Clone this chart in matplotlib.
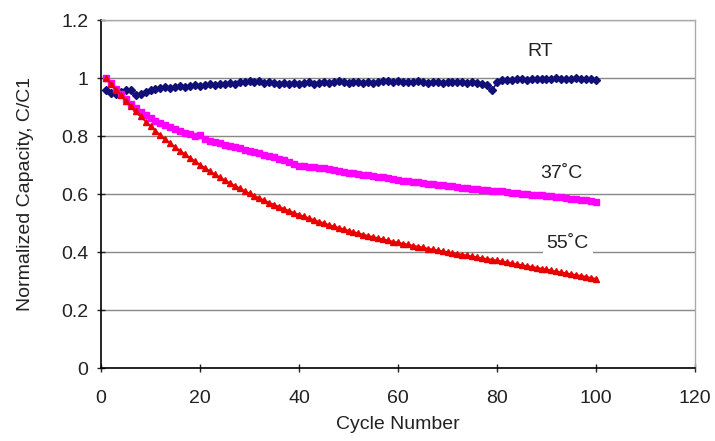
import numpy as np
import matplotlib
matplotlib.use('Agg')
import matplotlib.pyplot as plt

plt.rcParams['font.family'] = ['Liberation Sans', 'DejaVu Sans']

cycles = list(range(1, 101))

cap_rt = [0.958, 0.950, 0.946, 0.952, 0.957, 0.960, 0.940, 0.945, 0.953, 0.958,
          0.963, 0.966, 0.969, 0.966, 0.970, 0.972, 0.969, 0.973, 0.975, 0.972,
          0.976, 0.978, 0.975, 0.979, 0.981, 0.983, 0.979, 0.985, 0.988, 0.990,
          0.987, 0.989, 0.984, 0.986, 0.982, 0.980, 0.983, 0.981, 0.984, 0.980,
          0.982, 0.985, 0.981, 0.984, 0.986, 0.983, 0.988, 0.990, 0.986, 0.984,
          0.987, 0.985, 0.983, 0.986, 0.984, 0.987, 0.989, 0.991, 0.988, 0.990,
          0.987, 0.985, 0.988, 0.990, 0.986, 0.984, 0.987, 0.985, 0.983, 0.986,
          0.988, 0.985, 0.987, 0.984, 0.986, 0.983, 0.980, 0.976, 0.957, 0.985,
          0.992, 0.994, 0.993, 0.995, 0.996, 0.994, 0.997, 0.995, 0.998, 0.996,
          0.997, 0.999, 0.996, 0.998, 0.997, 0.999, 0.996, 0.998, 0.995, 0.994]

cap_37 = [1.000, 0.982, 0.963, 0.945, 0.928, 0.912, 0.897, 0.884, 0.872, 0.862,
          0.853, 0.845, 0.838, 0.831, 0.824, 0.818, 0.812, 0.806, 0.800, 0.803,
          0.788, 0.783, 0.779, 0.775, 0.770, 0.766, 0.762, 0.757, 0.752, 0.748,
          0.744, 0.740, 0.736, 0.732, 0.728, 0.722, 0.716, 0.710, 0.704, 0.698,
          0.696, 0.694, 0.692, 0.690, 0.688, 0.685, 0.682, 0.679, 0.676, 0.673,
          0.671, 0.669, 0.667, 0.665, 0.663, 0.660, 0.657, 0.654, 0.651, 0.648,
          0.646, 0.644, 0.642, 0.640, 0.638, 0.636, 0.634, 0.632, 0.630, 0.628,
          0.626, 0.624, 0.622, 0.620, 0.619, 0.617, 0.615, 0.614, 0.612, 0.611,
          0.609, 0.607, 0.605, 0.603, 0.601, 0.600, 0.598, 0.597, 0.595, 0.594,
          0.592, 0.590, 0.588, 0.586, 0.584, 0.582, 0.580, 0.578, 0.576, 0.574]

cap_55 = [1.000, 0.980, 0.960, 0.940, 0.922, 0.904, 0.886, 0.868, 0.850, 0.834,
          0.818, 0.803, 0.789, 0.775, 0.762, 0.749, 0.737, 0.725, 0.713, 0.701,
          0.690, 0.679, 0.668, 0.658, 0.648, 0.638, 0.629, 0.620, 0.611, 0.602,
          0.594, 0.586, 0.578, 0.570, 0.563, 0.556, 0.549, 0.542, 0.535, 0.529,
          0.523, 0.517, 0.511, 0.505, 0.500, 0.494, 0.489, 0.484, 0.479, 0.474,
          0.469, 0.465, 0.460, 0.456, 0.452, 0.448, 0.444, 0.440, 0.436, 0.433,
          0.429, 0.426, 0.422, 0.419, 0.416, 0.412, 0.409, 0.406, 0.403, 0.400,
          0.397, 0.394, 0.391, 0.388, 0.385, 0.382, 0.379, 0.376, 0.374, 0.371,
          0.368, 0.365, 0.362, 0.358, 0.355, 0.352, 0.349, 0.346, 0.343, 0.340,
          0.337, 0.333, 0.330, 0.327, 0.324, 0.321, 0.318, 0.315, 0.311, 0.308]

xticks = [0, 20, 40, 60, 80, 100, 120]
yticks = [0, 0.2, 0.4, 0.6, 0.8, 1.0, 1.2]
ytick_labels = ['0', '0.2', '0.4', '0.6', '0.8', '1', '1.2']

fig = plt.figure(figsize=(7.15, 4.41), dpi=100)
ax = fig.add_axes([0.1413, 0.1655, 0.8307, 0.7891])

ax.set_axisbelow(True)
ax.grid(axis='y', color='#888888', linewidth=1.0)

ax.plot(cycles, cap_rt, color='#101078', marker='D', markersize=3.6,
        linewidth=1.2, zorder=3)
ax.plot(cycles, cap_37, color='#ff00ff', marker='s', markersize=4.4,
        linewidth=1.2, zorder=4)
ax.plot(cycles, cap_55, color='#e80000', marker='^', markersize=5.0,
        linewidth=1.2, zorder=5)

ax.set_xlim(0, 120)
ax.set_ylim(0, 1.2)
ax.set_xticks(xticks)
ax.set_yticks(yticks)
ax.set_yticklabels(ytick_labels)
ax.tick_params(direction='inout', length=6, width=1, labelsize=14,
               colors='#222222')
ax.tick_params(axis='x', pad=13)
ax.tick_params(axis='y', pad=6)

for side in ['left', 'bottom']:
    ax.spines[side].set_color('black')
    ax.spines[side].set_linewidth(1.2)
for side in ['right', 'top']:
    ax.spines[side].set_color('#aaaaaa')
    ax.spines[side].set_linewidth(1.0)

ax.set_xlabel('Cycle Number', fontsize=14, color='#222222', labelpad=6)
ax.set_ylabel('Normalized Capacity, C/C1', fontsize=14, color='#222222',
              labelpad=20)

ax.text(88.7, 1.09, 'RT', fontsize=14, ha='center', va='center',
        color='#222222')
ax.text(93.1, 0.672, '37\u02daC', fontsize=14, ha='center', va='center',
        color='#222222')
ax.text(94.3, 0.431, '55\u02daC', fontsize=14, ha='center', va='center',
        color='#222222', zorder=6,
        bbox=dict(facecolor='white', edgecolor='none', pad=3))

plt.savefig('out.png', dpi=100)
